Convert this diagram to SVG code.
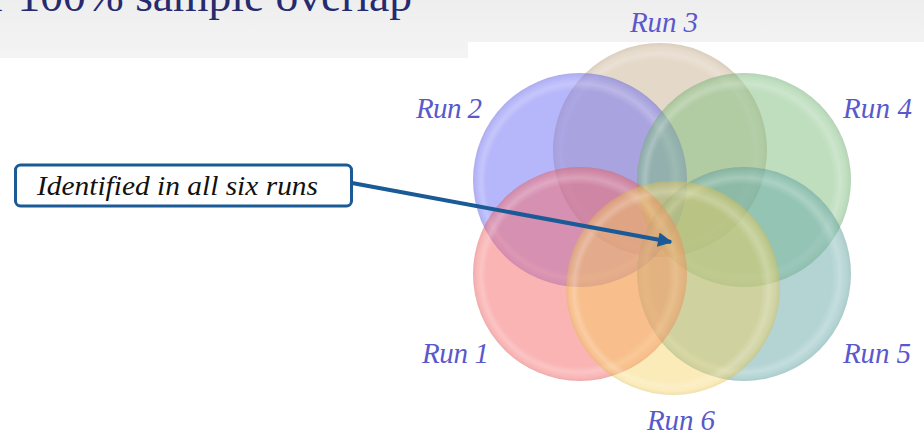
<svg xmlns="http://www.w3.org/2000/svg" width="924" height="436" viewBox="0 0 924 436">
<defs>
<linearGradient id="band" x1="0" y1="0" x2="0" y2="1">
<stop offset="0" stop-color="#eeeeee"/>
<stop offset="1" stop-color="#f4f4f4"/>
</linearGradient>
<radialGradient id="hl" cx="0.5" cy="0.5" r="0.5" fx="0.42" fy="0.55">
<stop offset="0" stop-color="#ffffff" stop-opacity="0"/>
<stop offset="0.85" stop-color="#ffffff" stop-opacity="0"/>
<stop offset="0.91" stop-color="#ffffff" stop-opacity="0.22"/>
<stop offset="0.96" stop-color="#ffffff" stop-opacity="0.04"/>
<stop offset="1" stop-color="#000000" stop-opacity="0.05"/>
</radialGradient>
<marker id="ah" viewBox="0 0 10 10" refX="9" refY="5" markerWidth="4.2" markerHeight="3.6" markerUnits="strokeWidth" orient="auto">
<path d="M0,0 L10,5 L0,10 Z" fill="#1a5a96"/>
</marker>
<style>
.c{opacity:0.5}
.hl{fill:url(#hl)}
.lbl{font-family:"Liberation Serif","DejaVu Serif",serif;font-style:italic;font-size:29px;fill:#5a58cc}
.edge{stroke:#1a5a96;stroke-width:4;fill:none}
</style>
</defs>
<rect x="0" y="0" width="924" height="436" fill="#ffffff"/>
<rect x="0" y="0" width="924" height="58" fill="url(#band)"/>
<rect x="468" y="42" width="456" height="394" fill="#ffffff"/>
<text x="-9" y="11" font-family="'Liberation Serif','DejaVu Serif',serif" font-size="44" fill="#262a6e" textLength="421" lengthAdjust="spacingAndGlyphs">r 100% sample overlap</text>

<g id="run3"><circle class="c" cx="660" cy="150" r="107" fill="#c9b191"/><circle class="hl" cx="660" cy="150" r="107"/></g>
<g id="run2"><circle class="c" cx="580" cy="180" r="107" fill="#6d6df5"/><circle class="hl" cx="580" cy="180" r="107"/></g>
<g id="run4"><circle class="c" cx="744" cy="180" r="107" fill="#7dbd7d"/><circle class="hl" cx="744" cy="180" r="107"/></g>
<g id="run5"><circle class="c" cx="744" cy="274" r="107" fill="#69a9a9"/><circle class="hl" cx="744" cy="274" r="107"/></g>
<g id="run1"><circle class="c" cx="580" cy="274" r="107" fill="#f56969"/><circle class="hl" cx="580" cy="274" r="107"/></g>
<g id="run6"><circle cx="673" cy="288" r="107" fill="#f5cf55" opacity="0.42"/><circle class="hl" cx="673" cy="288" r="107"/></g>

<g id="labels">
<text class="lbl" x="630" y="32" textLength="68">Run 3</text>
<text class="lbl" x="416" y="118" textLength="66">Run 2</text>
<text class="lbl" x="843" y="118" textLength="69">Run 4</text>
<text class="lbl" x="422" y="363" textLength="67">Run 1</text>
<text class="lbl" x="843" y="363" textLength="68">Run 5</text>
<text class="lbl" x="647" y="430" textLength="68">Run 6</text>
</g>

<g id="callout">
<rect x="15.5" y="165" width="336" height="41" rx="5" ry="5" fill="#ffffff" stroke="#1a5a96" stroke-width="3"/>
<text x="37" y="195" font-family="'Liberation Serif','DejaVu Serif',serif" font-style="italic" font-size="27" fill="#111111" textLength="281" lengthAdjust="spacingAndGlyphs">Identified in all six runs</text>
</g>

<g id="connectors">
<line class="edge" x1="352" y1="183" x2="671" y2="242" marker-end="url(#ah)"/>
</g>
</svg>
